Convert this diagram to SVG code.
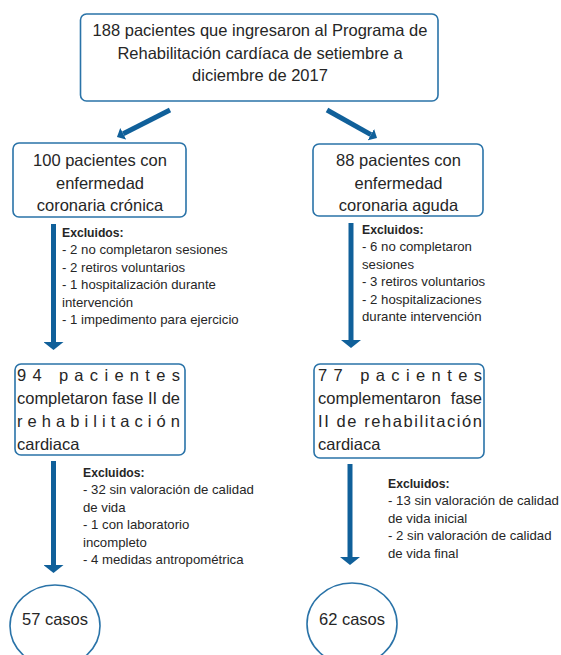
<svg xmlns="http://www.w3.org/2000/svg" width="561" height="655" viewBox="0 0 561 655">
<style>
.box{fill:#fff;stroke:#2a73a8;stroke-width:1.6}
.t{font-family:"Liberation Sans",Arial,sans-serif;font-size:16.5px;fill:#262626}
.c{text-anchor:middle}
.s{font-family:"Liberation Sans",Arial,sans-serif;font-size:13.2px;fill:#262626}
.b{font-weight:bold;font-size:12.2px}
.arr{stroke:#10609a;stroke-width:5;fill:none}
</style>
<defs>
<marker id="hv" viewBox="0 0 8 20" refX="0" refY="10" markerUnits="userSpaceOnUse" markerWidth="8" markerHeight="20" orient="auto">
<path d="M0,0 L8,10 L0,20 z" fill="#10609a"/>
</marker>
<marker id="hd" viewBox="0 0 7 13" refX="0" refY="6.5" markerUnits="userSpaceOnUse" markerWidth="7" markerHeight="13" orient="auto">
<path d="M0,0 L7,6.5 L0,13 z" fill="#10609a"/>
</marker>
</defs>
<rect width="561" height="655" fill="#fff"/>
<g id="connectors">
<line class="arr" x1="170" y1="110" x2="123.2" y2="133.8" marker-end="url(#hd)"/>
<line class="arr" x1="327" y1="110" x2="370.9" y2="134.6" marker-end="url(#hd)"/>
<line class="arr" x1="53.5" y1="224" x2="53.5" y2="342" marker-end="url(#hv)"/>
<line class="arr" x1="351" y1="223" x2="351" y2="340" marker-end="url(#hv)"/>
<line class="arr" x1="53.5" y1="461" x2="53.5" y2="565" marker-end="url(#hv)"/>
<line class="arr" x1="350" y1="464" x2="350" y2="557" marker-end="url(#hv)"/>
</g>
<g id="n-total">
<rect class="box" x="80.5" y="14" width="357.5" height="87" rx="6"/>
<text class="t c" x="260" y="36">188 pacientes que ingresaron al Programa de</text>
<text class="t c" x="260" y="58.5">Rehabilitación cardíaca de setiembre a</text>
<text class="t c" x="260" y="81">diciembre de 2017</text>
</g>
<g id="n-cronica">
<rect class="box" x="13" y="143" width="173" height="74" rx="6"/>
<text class="t c" x="100" y="166">100 pacientes con</text>
<text class="t c" x="100" y="188.5">enfermedad</text>
<text class="t c" x="100" y="211">coronaria crónica</text>
</g>
<g id="n-aguda">
<rect class="box" x="313" y="144" width="170" height="72" rx="6"/>
<text class="t c" x="398.5" y="166">88 pacientes con</text>
<text class="t c" x="398.5" y="188.5">enfermedad</text>
<text class="t c" x="398.5" y="211">coronaria aguda</text>
</g>
<g id="excl-1">
<text class="s b" x="62" y="237">Excluidos:</text>
<text class="s" x="62" y="254">- 2 no completaron sesiones</text>
<text class="s" x="62" y="271.5">- 2 retiros voluntarios</text>
<text class="s" x="62" y="289">- 1 hospitalización durante</text>
<text class="s" x="62" y="306.5">intervención</text>
<text class="s" x="62" y="324">- 1 impedimento para ejercicio</text>
</g>
<g id="excl-2">
<text class="s b" x="362" y="234">Excluidos:</text>
<text class="s" x="362" y="251">- 6 no completaron</text>
<text class="s" x="362" y="268.5">sesiones</text>
<text class="s" x="362" y="286">- 3 retiros voluntarios</text>
<text class="s" x="362" y="303.5">- 2 hospitalizaciones</text>
<text class="s" x="362" y="321">durante intervención</text>
</g>
<g id="n-94">
<rect class="box" x="15" y="364" width="170" height="91" rx="6"/>
<text class="t" x="17" y="381" textLength="163" lengthAdjust="spacing">94 pacientes</text>
<text class="t" x="17" y="404" textLength="163" lengthAdjust="spacing">completaron fase II de</text>
<text class="t" x="17" y="427" textLength="163" lengthAdjust="spacing">rehabilitación</text>
<text class="t" x="17" y="450">cardiaca</text>
</g>
<g id="n-77">
<rect class="box" x="314" y="364" width="170" height="94" rx="6"/>
<text class="t" x="318" y="381" textLength="164" lengthAdjust="spacing">77 pacientes</text>
<text class="t" x="318" y="404">complementaron</text>
<text class="t" x="482" y="404" text-anchor="end">fase</text>
<text class="t" x="318" y="427" textLength="164" lengthAdjust="spacing">II de rehabilitación</text>
<text class="t" x="318" y="450">cardiaca</text>
</g>
<g id="excl-3">
<text class="s b" x="83" y="477">Excluidos:</text>
<text class="s" x="83" y="494">- 32 sin valoración de calidad</text>
<text class="s" x="83" y="511.5">de vida</text>
<text class="s" x="83" y="529">- 1 con laboratorio</text>
<text class="s" x="83" y="546.5">incompleto</text>
<text class="s" x="83" y="564">- 4 medidas antropométrica</text>
</g>
<g id="excl-4">
<text class="s b" x="388" y="487.5">Excluidos:</text>
<text class="s" x="388" y="505">- 13 sin valoración de calidad</text>
<text class="s" x="388" y="522.5">de vida inicial</text>
<text class="s" x="388" y="540">- 2 sin valoración de calidad</text>
<text class="s" x="388" y="557.5">de vida final</text>
</g>
<g id="n-57">
<ellipse class="box" cx="55" cy="626" rx="45" ry="41"/>
<text class="t c" x="55" y="625">57 casos</text>
</g>
<g id="n-62">
<ellipse class="box" cx="352" cy="624" rx="45" ry="41"/>
<text class="t c" x="352" y="625">62 casos</text>
</g>
</svg>
